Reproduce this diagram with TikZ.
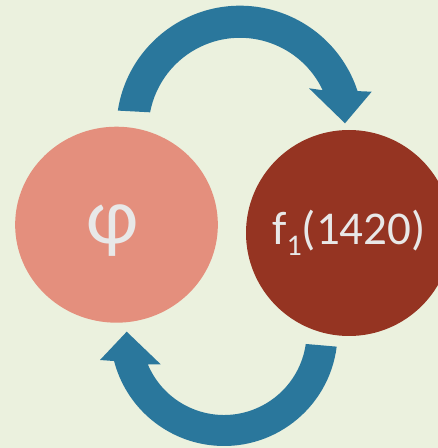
\documentclass[tikz,border=0pt]{standalone}
\usepackage{fontspec}
\setmainfont{Carlito}
\usetikzlibrary{calc,shapes.geometric}
\definecolor{bg}{HTML}{EBF1DE}
\definecolor{salmon}{HTML}{E48F7D}
\definecolor{brick}{HTML}{953422}
\definecolor{arrowblue}{HTML}{2A779C}
\definecolor{txt}{HTML}{E8E8E8}
\begin{document}
\begin{tikzpicture}[x=1pt,y=1pt,
  ball/.style={inner sep=0pt, draw=none, text=txt, font=\fontsize{47}{56}\selectfont},
  cycarrow/.style={fill=arrowblue, draw=none}]
\fill[bg] (0,0) rectangle (438,448);
\useasboundingbox (0,0) rectangle (438,448);
\begin{scope}
\clip (0,0) rectangle (438,448);
\node[ball, ellipse, fill=salmon, minimum width=202.7pt, minimum height=196pt,
  label={[text=txt, font=\fontsize{80}{90}\selectfont, xshift=-4pt, yshift=-6pt]center:φ}] (phi) at (116.5,223.3) {};
\node[ball, circle, fill=brick, minimum size=206pt] (f1) at (349,215) {f\raisebox{-10.7pt}{\fontsize{30}{30}\selectfont 1}(1420)};
\end{scope}
% top cycle arrow
\coordinate (ct) at (240,318.7);
\fill[cycarrow] ($(ct)+(171.3:123.6)$) arc[start angle=171.3, end angle=18, radius=123.6pt]
  -- (371.7,356.3) -- (345,324.7) -- (309,359.7)
  -- ($(ct)+(25.3:91.5)$) arc[start angle=25.3, end angle=169.3, radius=91.5pt] -- cycle;
% bottom cycle arrow
\coordinate (cb) at (224,115.6);
\fill[cycarrow] ($(cb)+(-7.2:113.6)$) arc[start angle=-7.2, end angle=-165.4, radius=113.6pt]
  -- (100,88) -- (126.7,116.3) -- (160.7,83.7)
  -- ($(cb)+(-157.3:82.6)$) arc[start angle=-157.3, end angle=-8.05, radius=82.6pt] -- cycle;
\end{tikzpicture}
\end{document}
